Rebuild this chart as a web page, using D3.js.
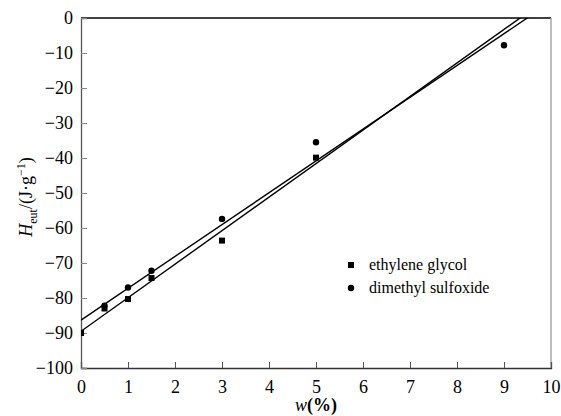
<!DOCTYPE html>
<html>
<head>
<meta charset="utf-8">
<script src="https://cdn.jsdelivr.net/npm/d3@7"></script>
<style>
  body { margin: 0; background: #fff; }
  svg { display: block; }
</style>
</head>
<body>
<div id="chart"></div>
<script>
// data
const xTicks = [0, 1, 2, 3, 4, 5, 6, 7, 8, 9, 10];
const yTicks = [0, -10, -20, -30, -40, -50, -60, -70, -80, -90, -100];

const glycolW = [0, 0.5, 1, 1.5, 3, 5];
const glycolH = [-90, -83, -80.3, -74.3, -63.6, -39.9];
const dmsoW = [0.5, 1, 1.5, 3, 5, 9];
const dmsoH = [-82.2, -77, -72.2, -57.4, -35.5, -7.8];

// linear fits (intercept, slope)
const glycolFit = [-89.5, 9.58];
const dmsoFit = [-86.3, 9.09];

const serif = "Liberation Serif, DejaVu Serif, serif";

const width = 561, height = 416;
const margin = { top: 18, right: 10, bottom: 48, left: 81 };

const svg = d3.select("#chart").append("svg")
    .attr("width", width)
    .attr("height", height)
    .attr("font-family", serif);

const x = d3.scaleLinear().domain([0, 10]).range([margin.left, width - margin.right]);
const y = d3.scaleLinear().domain([-100, 0]).range([height - margin.bottom, margin.top]);

svg.append("clipPath").attr("id", "plot")
    .append("rect")
    .attr("x", x(0)).attr("y", y(0))
    .attr("width", x(10) - x(0)).attr("height", y(-100) - y(0));

// frame: top + right
svg.append("line").attr("x1", x(0)).attr("x2", x(10)).attr("y1", y(0)).attr("y2", y(0))
    .attr("stroke", "#000").attr("stroke-width", 1.3);
svg.append("line").attr("x1", x(10)).attr("x2", x(10)).attr("y1", y(0)).attr("y2", y(-100))
    .attr("stroke", "#999").attr("stroke-width", 1.3);

// x axis, ticks inward
const xAxis = svg.append("g")
    .attr("transform", `translate(0,${y(-100)})`)
    .call(d3.axisBottom(x).tickValues(xTicks).tickSize(-6).tickPadding(12).tickFormat(d3.format("d")));
xAxis.attr("font-family", serif).attr("font-size", 18);
xAxis.select(".domain").attr("stroke", "#333").attr("stroke-width", 1.3);
xAxis.selectAll(".tick line").attr("stroke", "#555");

// y axis, ticks inward
const yAxis = svg.append("g")
    .attr("transform", `translate(${x(0)},0)`)
    .call(d3.axisLeft(y).tickValues(yTicks).tickSize(-6).tickPadding(8)
        .tickFormat(d => d < 0 ? "\u2212" + Math.abs(d) : d));
yAxis.attr("font-family", serif).attr("font-size", 18);
yAxis.select(".domain").attr("stroke", "#555").attr("stroke-width", 1.3);
yAxis.selectAll(".tick line").attr("stroke", "#888");

const g = svg.append("g").attr("clip-path", "url(#plot)");

// fit lines
[glycolFit, dmsoFit].forEach(f => {
    g.append("line")
        .attr("x1", x(0)).attr("y1", y(f[0]))
        .attr("x2", x(10)).attr("y2", y(f[0] + f[1] * 10))
        .attr("stroke", "#000").attr("stroke-width", 1.4);
});

// squares: ethylene glycol
g.selectAll("rect.eg")
    .data(glycolW.map((w, i) => [w, glycolH[i]]))
    .enter().append("rect")
    .attr("class", "eg")
    .attr("x", d => x(d[0]) - 3)
    .attr("y", d => y(d[1]) - 3)
    .attr("width", 6).attr("height", 6)
    .attr("fill", "#000");

// circles: dimethyl sulfoxide
g.selectAll("circle.dm")
    .data(dmsoW.map((w, i) => [w, dmsoH[i]]))
    .enter().append("circle")
    .attr("class", "dm")
    .attr("cx", d => x(d[0]))
    .attr("cy", d => y(d[1]))
    .attr("r", 3.2)
    .attr("fill", "#000");

// legend
const legend = svg.append("g").attr("transform", "translate(351,265)");
legend.append("rect").attr("x", -3).attr("y", -3).attr("width", 6).attr("height", 6).attr("fill", "#000");
legend.append("text").attr("x", 18).attr("y", 5).attr("font-size", 16).text("ethylene glycol");
legend.append("circle").attr("cx", 0).attr("cy", 23).attr("r", 3.2).attr("fill", "#000");
legend.append("text").attr("x", 18).attr("y", 28).attr("font-size", 16).text("dimethyl sulfoxide");

// x label
const xl = svg.append("text")
    .attr("x", (x(0) + x(10)) / 2)
    .attr("y", 411)
    .attr("text-anchor", "middle")
    .attr("font-size", 18);
xl.append("tspan").attr("font-style", "italic").text("w");
xl.append("tspan").attr("font-weight", "bold").text("(%)");

// y label
const yl = svg.append("text")
    .attr("transform", `translate(32,${(y(0) + y(-100)) / 2 + 4}) rotate(-90)`)
    .attr("text-anchor", "middle")
    .attr("font-size", 18);
yl.append("tspan").attr("font-style", "italic").text("H");
yl.append("tspan").attr("dy", 5).attr("font-size", 12).text("eut");
yl.append("tspan").attr("dy", -5).text("/(J\u00b7g");
yl.append("tspan").attr("dy", -7).attr("font-size", 12).text("\u22121");
yl.append("tspan").attr("dy", 7).text(")");
</script>
</body>
</html>
